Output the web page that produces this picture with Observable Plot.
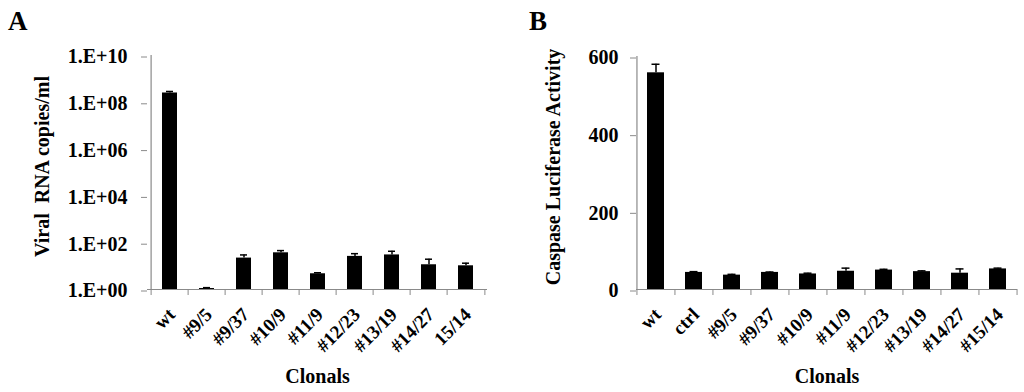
<!DOCTYPE html>
<html>
<head>
<meta charset="utf-8">
<script src="https://cdn.jsdelivr.net/npm/d3@7"></script>
<script src="https://cdn.jsdelivr.net/npm/@observablehq/plot@0.6"></script>
<style>
  html, body { margin: 0; padding: 0; background: #fff; }
  #wrap { position: relative; width: 1024px; height: 392px; overflow: hidden; font-family: "Liberation Serif", "Times New Roman", serif; font-weight: bold; background: #fff; }
  .panel { position: absolute; top: 0; }
  .letter { position: absolute; font-size: 27px; font-weight: bold; line-height: 1; z-index: 2; }
</style>
</head>
<body>
<div id="wrap">
  <div class="panel" id="pa" style="left:0px;"></div>
  <div class="panel" id="pb" style="left:510px;"></div>
  <div class="letter" style="left:8px; top:8px;">A</div>
  <div class="letter" style="left:529px; top:8px;">B</div>
</div>
<script>
// ---- Panel A data (log scale) ----
const catsA = ["wt", "#9/5", "#9/37", "#10/9", "#11/9", "#12/23", "#13/19", "#14/27", "15/14"];
const valuesA = [2.5e8, 1.1, 22, 37, 4.7, 26, 30, 11.4, 10.3];
const errA = [0.4e8, 0.1, 8, 9, 0.5, 8, 13, 8.3, 3];
const ticksA = [1, 1e2, 1e4, 1e6, 1e8, 1e10];

// ---- Panel B data ----
const catsB = ["wt", "ctrl", "#9/5", "#9/37", "#10/9", "#11/9", "#12/23", "#13/19", "#14/27", "#15/14"];
const valuesB = [558, 44, 37, 44, 40, 47, 50, 46, 42, 53];
const errB = [22, 2, 2, 1, 2, 8, 2, 2, 11, 2];
const ticksB = [0, 200, 400, 600];

const dataA = catsA.map((name, i) => ({name, value: valuesA[i], err: errA[i]}));
const dataB = catsB.map((name, i) => ({name, value: valuesB[i], err: errB[i]}));

const GRAY = "#8a8a8a";
const FONT = "'Liberation Serif', 'Times New Roman', serif";

function panel({data, cats, yScale, yTicks, yFormat, base, yLabel, width, mL, mR, mT, mB, pad, yLabelDx, tickPad, capInset}) {
  const height = 392;
  const step = (width - mL - mR) / cats.length;
  return Plot.plot({
    width, height,
    marginLeft: mL, marginRight: mR, marginTop: mT, marginBottom: mB,
    style: {fontFamily: FONT, fontWeight: "bold", fontSize: "20px", color: "#000", background: "transparent", overflow: "visible"},
    x: {domain: cats, paddingInner: pad, paddingOuter: pad / 2},
    y: yScale,
    marks: [
      // bars
      Plot.barY(data, {x: "name", y1: base, y2: "value", fill: "#000"}),
      // error bars
      Plot.ruleX(data, {x: "name", y1: "value", y2: d => d.value + d.err, stroke: "#000", strokeWidth: 1.5}),
      Plot.tickY(data, {x: "name", y: d => d.value + d.err, stroke: "#000", strokeWidth: 1.5, insetLeft: capInset, insetRight: capInset}),
      // axis lines
      Plot.ruleY([base], {stroke: GRAY, strokeWidth: 1.2}),
      Plot.ruleX([cats[0]], {dx: -step / 2, stroke: GRAY, strokeWidth: 1.2}),
      // y axis ticks + labels
      Plot.axisY({ticks: yTicks, tickFormat: yFormat, tickSize: 6, tickPadding: tickPad, stroke: GRAY, label: null, fontSize: 20, dy: 1.5}),
      // x axis boundary tick marks
      Plot.axisX({tickSize: 6, dx: -step / 2, stroke: GRAY, fill: "none", label: null}),
      Plot.axisX({ticks: [cats[cats.length - 1]], tickSize: 6, dx: step / 2, stroke: GRAY, fill: "none", label: null}),
      // x tick labels
      Plot.axisX({tickSize: 0, tickRotate: -45, tickPadding: 22, label: null, fontSize: 19, dx: 2}),
      // axis titles
      Plot.text([yLabel], {frameAnchor: "left", textAnchor: "middle", dx: yLabelDx, dy: -6, rotate: -90, text: d => d, fontSize: 20}),
      Plot.text(["Clonals"], {frameAnchor: "bottom", dy: 93, text: d => d, fontSize: 20})
    ]
  });
}

const fmtA = d => "1.E+" + String(Math.round(Math.log10(d))).padStart(2, "0");

document.getElementById("pa").appendChild(panel({
  data: dataA, cats: catsA,
  yScale: {type: "log", domain: [1, 1e10]},
  yTicks: ticksA, yFormat: fmtA, base: 1,
  yLabel: "Viral  RNA copies/ml",
  width: 510, mL: 147, mR: 23, mT: 55, mB: 103, pad: 0.6,
  yLabelDx: -105, tickPad: 14, capInset: 4
}));

document.getElementById("pb").appendChild(panel({
  data: dataB, cats: catsB,
  yScale: {type: "linear", domain: [0, 600]},
  yTicks: ticksB, yFormat: d => String(d), base: 0,
  yLabel: "Caspase Luciferase Activity",
  width: 514, mL: 126, mR: 7, mT: 56, mB: 103, pad: 0.55,
  yLabelDx: -83, tickPad: 12, capInset: 4.5
}));
</script>
</body>
</html>
